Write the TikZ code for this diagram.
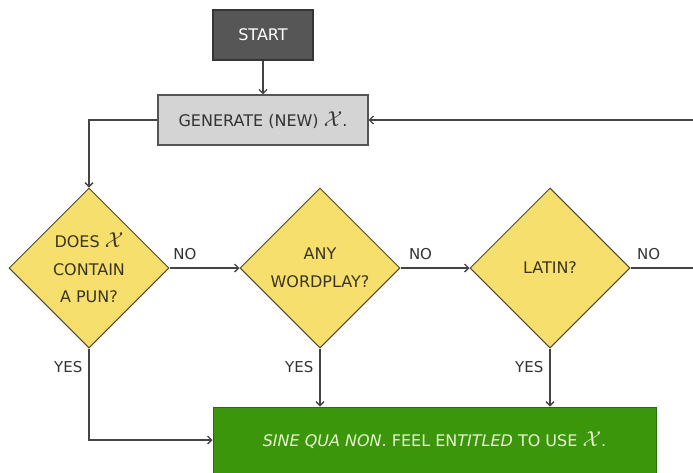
\documentclass[tikz,border=0pt]{standalone}
\usepackage{fontspec}
\setmainfont{DejaVu Sans}
\usetikzlibrary{shapes.geometric,arrows.meta}
\definecolor{startfill}{HTML}{565656}
\definecolor{startdraw}{HTML}{353535}
\definecolor{genfill}{HTML}{D4D4D4}
\definecolor{gendraw}{HTML}{555555}
\definecolor{dfill}{HTML}{F7DF6E}
\definecolor{ddraw}{HTML}{4F4A2C}
\definecolor{dtext}{HTML}{3A3520}
\definecolor{gfill}{HTML}{3C960C}
\definecolor{gdraw}{HTML}{2B6A08}
\definecolor{gtext}{HTML}{E6F4CC}
\definecolor{linec}{HTML}{444444}
\newcommand{\bigX}{\raisebox{0pt}{\scalebox{1.25}{$\mathcal{X}$}}}
\begin{document}
\begin{tikzpicture}[x=1pt,y=-1pt,
  every node/.style={font=\fontsize{16}{27.5}\selectfont, inner sep=0pt},
  startbox/.style={draw=startdraw, fill=startfill, line width=1.2pt, text=white, minimum width=100pt, minimum height=50pt},
  genbox/.style={draw=gendraw, fill=genfill, line width=1.2pt, text=black!80, minimum width=210pt, minimum height=50pt},
  decision/.style={diamond, aspect=1, draw=ddraw, fill=dfill, line width=1pt, text=dtext, minimum width=160pt, minimum height=160pt, align=center},
  endbox/.style={draw=gdraw, fill=gfill, line width=1pt, text=gtext, minimum width=443pt, minimum height=66pt},
  arr/.style={draw=linec, line width=1.3pt, -{Straight Barb[length=4pt,width=8pt]}},
  ln/.style={draw=linec, line width=1.3pt},
  lab/.style={text=black!80, font=\fontsize{15}{17}\selectfont}
]
\useasboundingbox (0,0) rectangle (693,472);
\clip (0,0) rectangle (693,472);
\fill[white] (0,0) rectangle (693,472);

\node[startbox] (start) at (263,35) {START};
\node[genbox] (gen) at (263,120) {GENERATE (NEW) \bigX.};
\node[decision] (d1) at (89,268) {DOES \bigX\\CONTAIN\\A PUN?};
\node[decision] (d2) at (320,268) {ANY\\WORDPLAY?};
\node[decision] (d3) at (550,268) {LATIN?};
\node[endbox] (sine) at (434.5,440) {\textit{SINE QUA NON}. FEEL EN\textit{TITLED} TO USE \bigX.};

\coordinate (rin) at (693,120);
\coordinate (rout) at (693,268);

\draw[arr] (start) -- (gen);
\draw[arr] (gen.west) -- (d1.north |- gen.west) -- (d1.north);
\draw[arr] (rin) -- (gen.east);
\draw[arr] (d1.east) -- node[lab, pos=0.22, above=8pt] (no1) {NO} (d2.west);
\draw[arr] (d2.east) -- node[lab, pos=0.29, above=8pt] (no2) {NO} (d3.west);
\draw[ln] (d3.east) -- node[lab, pos=0.29, above=8pt] (no3) {NO} (rout);
\draw[arr] (d1.south) -- node[lab, pos=0.2, left=6pt] (yes1) {YES} (d1.south |- sine.west) -- (sine.west);
\draw[arr] (d2.south) -- node[lab, pos=0.32, left=6pt] (yes2) {YES} (d2.south |- sine.north);
\draw[arr] (d3.south) -- node[lab, pos=0.32, left=6pt] (yes3) {YES} (d3.south |- sine.north);
\end{tikzpicture}
\end{document}
